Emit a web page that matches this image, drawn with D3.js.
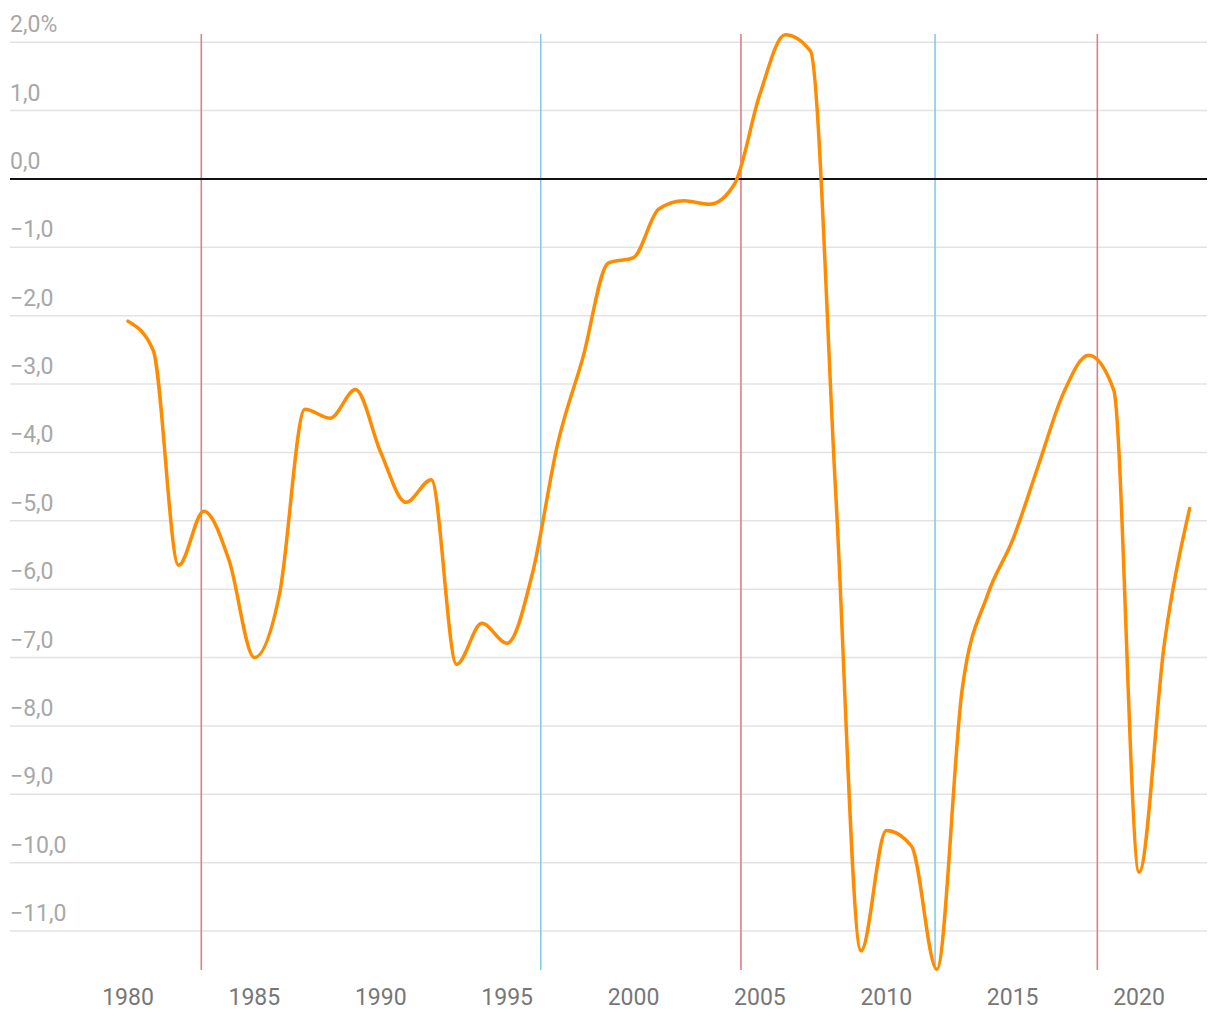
<!DOCTYPE html>
<html>
<head>
<meta charset="utf-8">
<script src="https://cdn.jsdelivr.net/npm/d3@7"></script>
<style>
  html, body { margin: 0; padding: 0; background: #fff; }
  svg { display: block; font-family: Roboto, "Noto Sans", sans-serif; }
</style>
</head>
<body>
<svg id="chart" width="1220" height="1020"></svg>
<script>
const years = d3.range(1980, 2023);
const balance = [
  -2.08, -2.51, -5.65, -4.86, -5.58, -7.00, -6.06, -3.37, -3.50, -3.08,
  -4.00, -4.73, -4.40, -7.10, -6.50, -6.79, -5.77, -3.87, -2.61, -1.23,
  -1.15, -0.44, -0.32, -0.37, -0.07, 1.24, 2.11, 1.87, -4.60, -11.29,
  -9.53, -9.76, -11.56, -7.47, -6.09, -5.28, -4.21, -3.14, -2.58, -3.09,
  -10.14, -6.80, -4.82
];
const yTicks = [2, 1, 0, -1, -2, -3, -4, -5, -6, -7, -8, -9, -10, -11];
const xTicks = [1980, 1985, 1990, 1995, 2000, 2005, 2010, 2015, 2020];
const redMarkers = [1982.9, 2004.25, 2018.35];
const blueMarkers = [1996.33, 2011.93];

const svg = d3.select("#chart");
const left = 10, right = 1207;

const x = d3.scaleLinear().domain([1980, 2022]).range([128, 1189.6]);
const y = d3.scaleLinear().domain([-11.57, 2.12]).range([970, 34]);

const fmt = v => {
  const s = Math.abs(v).toFixed(1).replace(".", ",");
  return (v < 0 ? "\u2212" : "") + s + (v === 2 ? "%" : "");
};

// gridlines
svg.append("g").selectAll("line")
  .data(yTicks.filter(d => d !== 0))
  .join("line")
  .attr("x1", left).attr("x2", right)
  .attr("y1", d => y(d)).attr("y2", d => y(d))
  .attr("stroke", "#e3e3e3").attr("stroke-width", 1.5);

// y labels
svg.append("g").selectAll("text")
  .data(yTicks)
  .join("text")
  .attr("x", left)
  .attr("y", d => y(d) - 10)
  .attr("fill", "#a8a8a8")
  .attr("font-size", 23)
  .text(fmt);

// x labels
svg.append("g").selectAll("text")
  .data(xTicks)
  .join("text")
  .attr("x", d => x(d))
  .attr("y", 1005)
  .attr("text-anchor", "middle")
  .attr("fill", "#777")
  .attr("font-size", 23)
  .text(d => d);

// government markers
svg.append("g").selectAll("line")
  .data(redMarkers)
  .join("line")
  .attr("x1", d => x(d)).attr("x2", d => x(d))
  .attr("y1", y(2.12)).attr("y2", y(-11.57))
  .attr("stroke", "#dc8088").attr("stroke-width", 1.6);
svg.append("g").selectAll("line")
  .data(blueMarkers)
  .join("line")
  .attr("x1", d => x(d)).attr("x2", d => x(d))
  .attr("y1", y(2.12)).attr("y2", y(-11.57))
  .attr("stroke", "#86cbe6").attr("stroke-width", 1.6);

// zero line
svg.append("line")
  .attr("x1", left).attr("x2", right)
  .attr("y1", y(0)).attr("y2", y(0))
  .attr("stroke", "#111").attr("stroke-width", 2);

// series
const line = d3.line()
  .x((d, i) => x(years[i]))
  .y(d => y(d))
  .curve(d3.curveMonotoneX);

svg.append("path")
  .datum(balance)
  .attr("d", line)
  .attr("fill", "none")
  .attr("stroke", "#ff8c00")
  .attr("stroke-width", 3.5)
  .attr("stroke-linejoin", "round")
  .attr("stroke-linecap", "round");
</script>
</body>
</html>
